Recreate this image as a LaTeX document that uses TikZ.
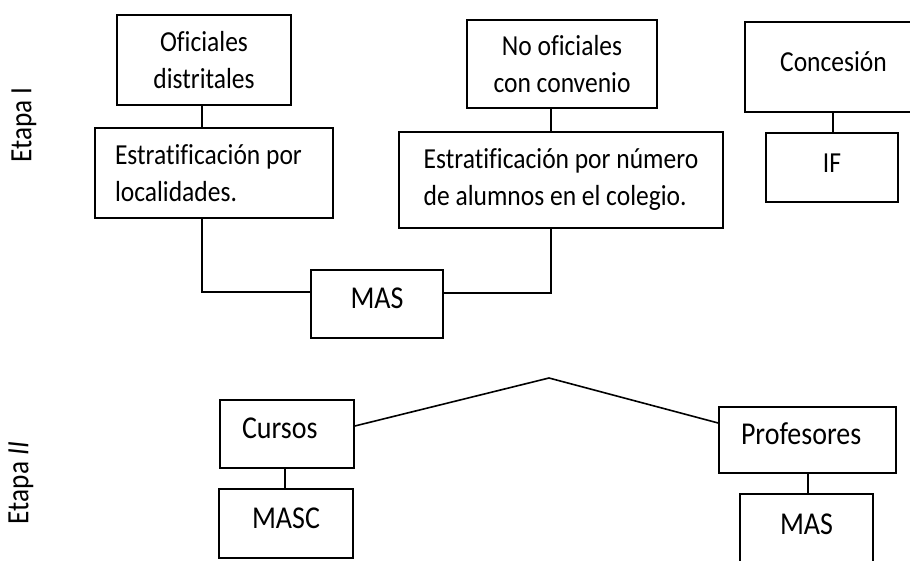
\documentclass[tikz,border=0pt]{standalone}
\usepackage{fontspec}
\setmainfont{Carlito}[Ligatures=NoCommon, FakeStretch=0.88]
\begin{document}
\begin{tikzpicture}[x=1pt,y=-1pt,
  box/.style={draw, line width=1.6pt, inner sep=0pt},
  up/.style={font=\fontsize{29}{37}\selectfont},
  upone/.style={font=\fontsize{29}{37}\selectfont, text height=21pt, text depth=12pt},
  low/.style={font=\fontsize{31.8}{37}\selectfont, text height=22pt, text depth=13pt},
  stage/.style={font=\fontsize{31}{36}\selectfont, rotate=90},
  conn/.style={line width=1.6pt}]
\useasboundingbox (0,0) rectangle (910,560);

% Etapa labels
\node[stage] (e1) at (24,125) {Etapa I};
\node[stage] (e2) at (21,483) {Etapa \textit{II}};

% Etapa I boxes
\node[box, up, minimum width=174pt, minimum height=90pt, align=center] (n1) at (204,60) {Oficiales\\distritales};
\node[box, up, minimum width=238pt, minimum height=90pt, text width=198pt, align=flush left] (n2) at (214,173) {Estratificación por\\localidades.};
\node[box, up, minimum width=190pt, minimum height=88pt, align=center] (n3) at (562,64) {No oficiales\\con convenio};
\node[box, up, minimum width=324pt, minimum height=96pt, align=flush left] (n4) at (561,180) {Estratificación por número\\de alumnos en el colegio.};
\node[box, upone, minimum width=177pt, minimum height=90pt] (conc) at (833.5,67) {Concesión};
\node[box, upone, minimum width=132pt, minimum height=69pt] (ifn) at (832,167.5) {IF};
\node[box, low, minimum width=132pt, minimum height=68pt] (mas) at (377,304) {MAS};

% Etapa II boxes
\node[box, low, minimum width=134pt, minimum height=68pt, text width=90pt, align=flush left] (cursos) at (287,434) {Cursos};
\node[box, low, minimum width=134pt, minimum height=69pt] (masc) at (286,523.5) {MASC};
\node[box, low, minimum width=177pt, minimum height=66pt, text width=133pt, align=flush left] (prof) at (807.5,440) {Profesores};
\node[box, low, minimum width=133pt, minimum height=72pt] (mas2) at (806.5,530) {MAS};

% connectors
\draw[conn] (n1.south) ++(-2,0) coordinate (c1) -- (c1 |- n2.north);
\draw[conn] (c1 |- n2.south) |- ([yshift=12pt]mas.west);
\draw[conn] (n3.south) ++(-11,0) coordinate (c3) -- (c3 |- n4.north);
\draw[conn] (c3 |- n4.south) |- ([yshift=11pt]mas.east);
\draw[conn] (ifn.north) ++(1,0) coordinate (c5) -- (c5 |- conc.south);
\draw[conn] (masc.north) ++(-1,0) coordinate (c6) -- (c6 |- cursos.south);
\draw[conn] (prof.south) ++(0.5,0) coordinate (c7) -- (c7 |- mas2.north);
\coordinate (apex) at (549,378);
\draw[conn] ([yshift=8pt]cursos.east) -- (apex) -- ([yshift=17pt]prof.west);
\end{tikzpicture}
\end{document}
